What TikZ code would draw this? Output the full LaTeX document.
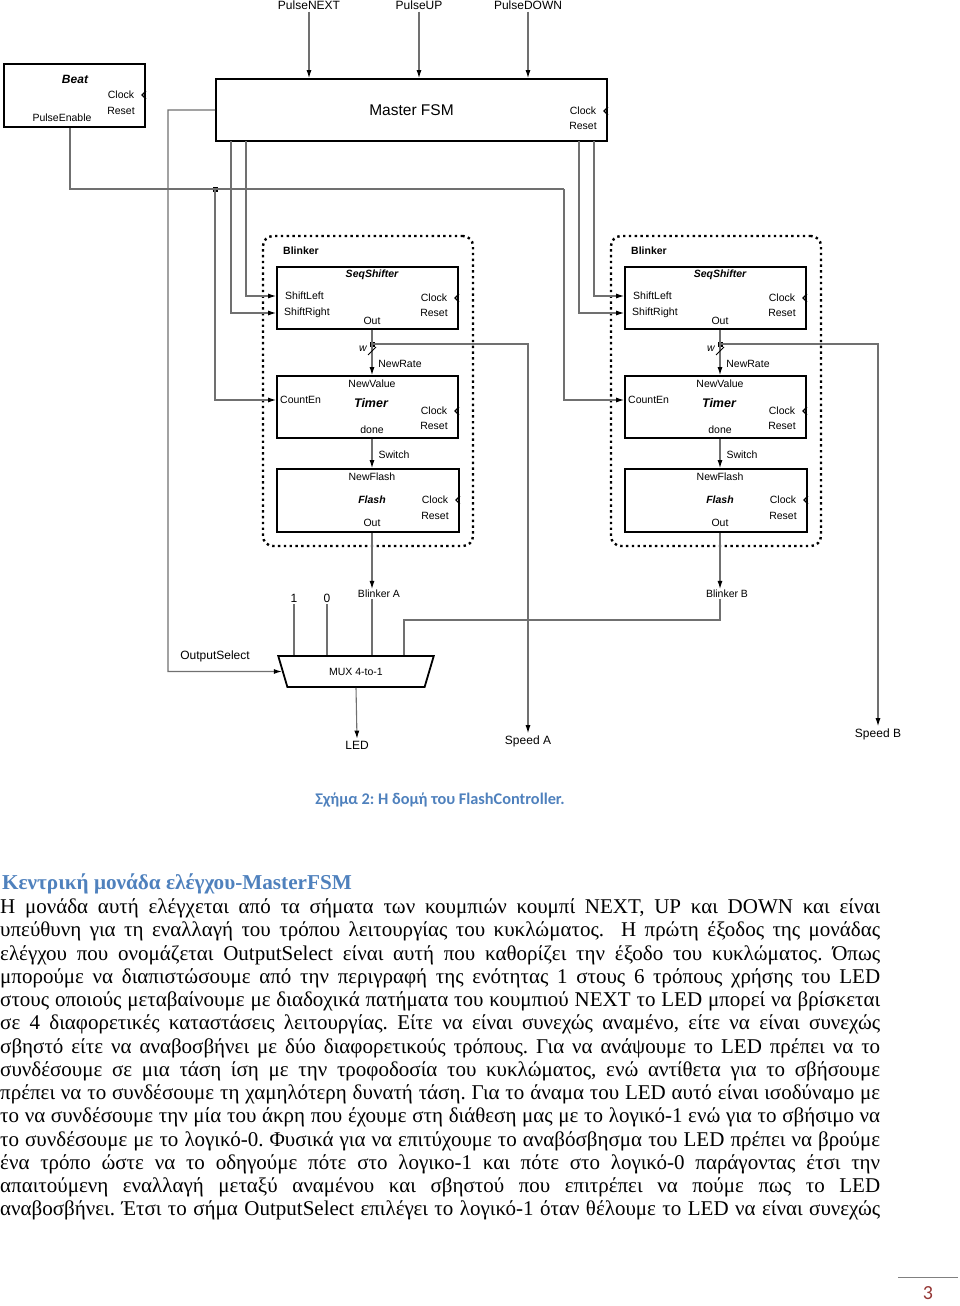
\documentclass[tikz,border=0pt]{standalone}
\usepackage{fontspec}
\setmainfont{Liberation Serif}
\setsansfont{Liberation Sans}
\newfontfamily\bodyfont[FakeStretch=1.0]{Liberation Serif}
\newfontfamily\capfont{Carlito}
\usetikzlibrary{arrows.meta,shapes.geometric}
\definecolor{capblue}{HTML}{4F81BD}
\definecolor{wiregray}{HTML}{707070}
\definecolor{pagered}{HTML}{943634}
\newcommand{\setsz}[1]{\fontsize{#1}{#1}\selectfont}
\frenchspacing

\begin{document}
\begin{tikzpicture}[
  x=1pt, y=-1pt,
  block/.style={draw, line width=1.8pt, inner sep=0pt},
  groupbox/.style={draw, line width=2.4pt, dash pattern=on 2.4pt off 3.4pt,
    rounded corners=10pt, minimum width=210, minimum height=310},
  grouplabel/.style={font=\sffamily\bfseries\setsz{10.5}, inner sep=1pt, anchor=west},
  blocktitle/.style={font=\sffamily\bfseries\itshape\setsz{10.5}, inner sep=1pt},
  pin/.style={font=\sffamily\setsz{10.5}, inner sep=1pt},
  extlabel/.style={font=\sffamily\setsz{12}, inner sep=2pt},
  muxbox/.style={draw, line width=1.8pt, trapezium, shape border rotate=180,
    trapezium left angle=64, trapezium right angle=64, trapezium stretches=true,
    minimum width=156, minimum height=31, inner sep=0pt, font=\sffamily\setsz{10.5}},
  wire/.style={draw=wiregray, line width=1.1pt},
  arrow/.style={-{Latex[length=8pt,width=5pt,color=black]}},
  slashmark/.style={draw=black, line width=0.9pt},
  junction/.style={fill=black, rectangle, minimum size=5pt, inner sep=0pt},
  clockmark/.pic={\draw[line width=1.2pt] (0,-4) -- (-4,0) -- (0,4);},
  bodyline/.style={anchor=base west, inner sep=0pt, font=\bodyfont\setsz{21}}
  ]
  \useasboundingbox (0,0) rectangle (960,1306);

  % inputs of the master fsm
  \node[extlabel] (pnext) at (309,5) {PulseNEXT};
  \node[extlabel] (pup) at (419,5) {PulseUP};
  \node[extlabel] (pdown) at (528,5) {PulseDOWN};

  % Beat
  \node[block, minimum width=141, minimum height=63] (beat) at (74.5,95.5) {};
  \node[blocktitle, font=\sffamily\bfseries\itshape\setsz{12}] (beatname) at (75,79) {Beat};
  \node[pin] (beatclk) at (121,95) {Clock};
  \node[pin] (beatrst) at (121,111) {Reset};
  \node[pin] (beatpe) at (62,118) {PulseEnable};
  \pic at (beat.east |- beatclk) {clockmark};

  % Master FSM
  \node[block, minimum width=391, minimum height=62, font=\sffamily\setsz{15.5}] (fsm) at (411.5,110) {Master FSM};
  \node[pin] (fsmclk) at (583,111) {Clock};
  \node[pin] (fsmrst) at (583,126) {Reset};
  \pic at (fsm.east |- fsmclk) {clockmark};

  \draw[wire, arrow] (pnext) -- (pnext |- fsm.north);
  \draw[wire, arrow] (pup) -- (pup |- fsm.north);
  \draw[wire, arrow] (pdown) -- (pdown |- fsm.north);

  % Blinker A
  \node[groupbox] (blkA) at (368,391) {};
  \node[grouplabel] (blkAname) at (282,251) {Blinker};

  \node[block, minimum width=181, minimum height=62] (ssA) at (367.5,298) {};
  \node[blocktitle] (ssAname) at (372,275) {SeqShifter};
  \node[pin, anchor=west] (ssAsl) at (284,296) {ShiftLeft};
  \node[pin, anchor=west] (ssAsr) at (283,313) {ShiftRight};
  \node[pin] (ssAclk) at (434,298) {Clock};
  \node[pin] (ssArst) at (434,313) {Reset};
  \node[pin] (ssAout) at (372,321) {Out};
  \pic at (ssA.east |- ssAclk) {clockmark};

  \node[block, minimum width=181, minimum height=62] (tmA) at (367.5,407) {};
  \node[pin] (tmAnv) at (372,384) {NewValue};
  \node[pin, anchor=west] (tmAce) at (279,400) {CountEn};
  \node[blocktitle, font=\sffamily\bfseries\itshape\setsz{12.5}] (tmAname) at (371,403) {Timer};
  \node[pin] (tmAclk) at (434,411) {Clock};
  \node[pin] (tmArst) at (434,426) {Reset};
  \node[pin] (tmAdone) at (372,430) {done};
  \pic at (tmA.east |- tmAclk) {clockmark};

  \node[block, minimum width=182, minimum height=63] (flA) at (368,500.5) {};
  \node[pin] (flAnf) at (372,477) {NewFlash};
  \node[blocktitle] (flAname) at (372,500) {Flash};
  \node[pin] (flAclk) at (435,500) {Clock};
  \node[pin] (flArst) at (435,516) {Reset};
  \node[pin] (flAout) at (372,523) {Out};
  \pic at (flA.east |- flAclk) {clockmark};

  \node[junction] (jA) at (372,344) {};
  \node[pin, font=\sffamily\itshape\setsz{10.5}] (wA) at (363,349) {w};
  \node[pin] (nrA) at (400,364) {NewRate};
  \node[pin] (swA) at (394,455) {Switch};
  \node[pin] (blAout) at (379,594) {Blinker A};

  \draw[wire, arrow] (ssA.south -| jA) -- (tmA.north -| jA);
  \draw[slashmark] ([shift={(-4,11)}]jA.center) -- ([shift={(4,3)}]jA.center);
  \draw[wire, arrow] (tmA.south -| jA) -- (flA.north -| jA);
  \draw[wire, arrow] (flA.south -| jA) -- (jA |- blAout.north);

  % Blinker B
  \node[groupbox] (blkB) at (716,391) {};
  \node[grouplabel] (blkBname) at (630,251) {Blinker};

  \node[block, minimum width=181, minimum height=62] (ssB) at (715.5,298) {};
  \node[blocktitle] (ssBname) at (720,275) {SeqShifter};
  \node[pin, anchor=west] (ssBsl) at (632,296) {ShiftLeft};
  \node[pin, anchor=west] (ssBsr) at (631,313) {ShiftRight};
  \node[pin] (ssBclk) at (782,298) {Clock};
  \node[pin] (ssBrst) at (782,313) {Reset};
  \node[pin] (ssBout) at (720,321) {Out};
  \pic at (ssB.east |- ssBclk) {clockmark};

  \node[block, minimum width=181, minimum height=62] (tmB) at (715.5,407) {};
  \node[pin] (tmBnv) at (720,384) {NewValue};
  \node[pin, anchor=west] (tmBce) at (627,400) {CountEn};
  \node[blocktitle, font=\sffamily\bfseries\itshape\setsz{12.5}] (tmBname) at (719,403) {Timer};
  \node[pin] (tmBclk) at (782,411) {Clock};
  \node[pin] (tmBrst) at (782,426) {Reset};
  \node[pin] (tmBdone) at (720,430) {done};
  \pic at (tmB.east |- tmBclk) {clockmark};

  \node[block, minimum width=182, minimum height=63] (flB) at (716,500.5) {};
  \node[pin] (flBnf) at (720,477) {NewFlash};
  \node[blocktitle] (flBname) at (720,500) {Flash};
  \node[pin] (flBclk) at (783,500) {Clock};
  \node[pin] (flBrst) at (783,516) {Reset};
  \node[pin] (flBout) at (720,523) {Out};
  \pic at (flB.east |- flBclk) {clockmark};

  \node[junction] (jB) at (720,344) {};
  \node[pin, font=\sffamily\itshape\setsz{10.5}] (wB) at (711,349) {w};
  \node[pin] (nrB) at (748,364) {NewRate};
  \node[pin] (swB) at (742,455) {Switch};
  \node[pin] (blBout) at (727,594) {Blinker B};

  \draw[wire, arrow] (ssB.south -| jB) -- (tmB.north -| jB);
  \draw[slashmark] ([shift={(-4,11)}]jB.center) -- ([shift={(4,3)}]jB.center);
  \draw[wire, arrow] (tmB.south -| jB) -- (flB.north -| jB);
  \draw[wire, arrow] (flB.south -| jB) -- (jB |- blBout.north);

  % master fsm to the blinkers
  \coordinate (qSRA) at (231,141);
  \coordinate (qSLA) at (246,141);
  \coordinate (qSRB) at (579,141);
  \coordinate (qSLB) at (594,141);
  \draw[wire, arrow] (qSRA) |- (ssA.west |- ssAsr);
  \draw[wire, arrow] (qSLA) |- (ssA.west |- ssAsl);
  \draw[wire, arrow] (qSRB) |- (ssB.west |- ssBsr);
  \draw[wire, arrow] (qSLB) |- (ssB.west |- ssBsl);

  % PulseEnable to CountEn
  \coordinate (pe) at (70,189);
  \coordinate (peB) at (564,189);
  \node[junction] (jPE) at (215,189) {};
  \draw[wire] (beat.south -| pe) -- (pe) -- (peB);
  \draw[wire, arrow] (peB) |- (tmB.west |- tmBce);
  \draw[wire, arrow] (jPE.center) |- (tmA.west |- tmAce);

  % speed outputs
  \node[extlabel] (spdA) at (528,741) {Speed A};
  \node[extlabel] (spdB) at (878,734) {Speed B};
  \draw[wire, arrow] (jA.center) -| (spdA.north);
  \draw[wire, arrow] (jB.center) -| (spdB.north);

  % MUX
  \node[muxbox] (mux) at (356,671.5) {MUX 4-to-1};
  \node[extlabel] (in1) at (294,598) {1};
  \node[extlabel] (in0) at (327,598) {0};
  \node[extlabel] (osel) at (215,656) {OutputSelect};
  \node[extlabel] (led) at (357,745) {LED};
  \coordinate (bB) at (404,620);
  \coordinate (bO) at (168,671.5);

  \draw[wire] (in1.south) -- (in1.south |- mux.north);
  \draw[wire] (in0.south) -- (in0.south |- mux.north);
  \draw[wire] (jA |- blAout.south) -- (jA |- mux.north);
  \draw[wire] (jB |- blBout.south) |- (bB) -- (bB |- mux.north);
  \draw[wire, arrow] (fsm.west) -| (bO) -- (mux.west);
  \draw[wire, arrow] (mux.south) -- (led.north);

  % caption and text of the page
  \node[anchor=base, inner sep=0pt, font=\capfont\bfseries\setsz{16.3}, text=capblue] (caption) at (440,804) {Σχήμα 2: Η δομή του FlashController.};
  \node[anchor=base west, inner sep=0pt, font=\bodyfont\bfseries\setsz{21.2}, text=capblue] (heading) at (2,889) {Κεντρική μονάδα ελέγχου-MasterFSM};

  \node[bodyline] (line1) at (0,913.5) {\makebox[880pt][s]{Η μονάδα αυτή ελέγχεται από τα σήματα των κουμπιών κουμπί NEXT, UP και DOWN και είναι}};
  \node[bodyline] (line2) at (0,936.75) {\makebox[880pt][s]{υπεύθυνη για τη εναλλαγή του τρόπου λειτουργίας του κυκλώματος.\ \ Η πρώτη έξοδος της μονάδας}};
  \node[bodyline] (line3) at (0,960) {\makebox[880pt][s]{ελέγχου που ονομάζεται OutputSelect είναι αυτή που καθορίζει την έξοδο του κυκλώματος. Όπως}};
  \node[bodyline] (line4) at (0,983.25) {\makebox[880pt][s]{μπορούμε να διαπιστώσουμε από την περιγραφή της ενότητας 1 στους 6 τρόπους χρήσης του LED}};
  \node[bodyline] (line5) at (0,1006.5) {\makebox[880pt][s]{στους οποιούς μεταβαίνουμε με διαδοχικά πατήματα του κουμπιού NEXT το LED μπορεί να βρίσκεται}};
  \node[bodyline] (line6) at (0,1029.75) {\makebox[880pt][s]{σε 4 διαφορετικές καταστάσεις λειτουργίας. Είτε να είναι συνεχώς αναμένο, είτε να είναι συνεχώς}};
  \node[bodyline] (line7) at (0,1053) {\makebox[880pt][s]{σβηστό είτε να αναβοσβήνει με δύο διαφορετικούς τρόπους. Για να ανάψουμε το LED πρέπει να το}};
  \node[bodyline] (line8) at (0,1076.25) {\makebox[880pt][s]{συνδέσουμε σε μια τάση ίση με την τροφοδοσία του κυκλώματος, ενώ αντίθετα για το σβήσουμε}};
  \node[bodyline] (line9) at (0,1099.5) {\makebox[880pt][s]{πρέπει να το συνδέσουμε τη χαμηλότερη δυνατή τάση. Για το άναμα του LED αυτό είναι ισοδύναμο με}};
  \node[bodyline] (line10) at (0,1122.75) {\makebox[880pt][s]{το να συνδέσουμε την μία του άκρη που έχουμε στη διάθεση μας με το λογικό-1 ενώ για το σβήσιμο να}};
  \node[bodyline] (line11) at (0,1146) {\makebox[880pt][s]{το συνδέσουμε με το λογικό-0. Φυσικά για να επιτύχουμε το αναβόσβησμα του LED πρέπει να βρούμε}};
  \node[bodyline] (line12) at (0,1169.25) {\makebox[880pt][s]{ένα τρόπο ώστε να το οδηγούμε πότε στο λογικο-1 και πότε στο λογικό-0 παράγοντας έτσι την}};
  \node[bodyline] (line13) at (0,1192.5) {\makebox[880pt][s]{απαιτούμενη εναλλαγή μεταξύ αναμένου και σβηστού που επιτρέπει να πούμε πως το LED}};
  \node[bodyline] (line14) at (0,1215.75) {\makebox[880pt][s]{αναβοσβήνει. Έτσι το σήμα OutputSelect επιλέγει το λογικό-1 όταν θέλουμε το LED να είναι συνεχώς}};

  % page number
  \node[anchor=base, inner sep=0pt, font=\capfont\setsz{20}, text=pagered] (pagenum) at (928,1299) {3};
  \draw[draw=gray, line width=0.8pt] (898,1277) -- (958,1277);
\end{tikzpicture}
\end{document}
